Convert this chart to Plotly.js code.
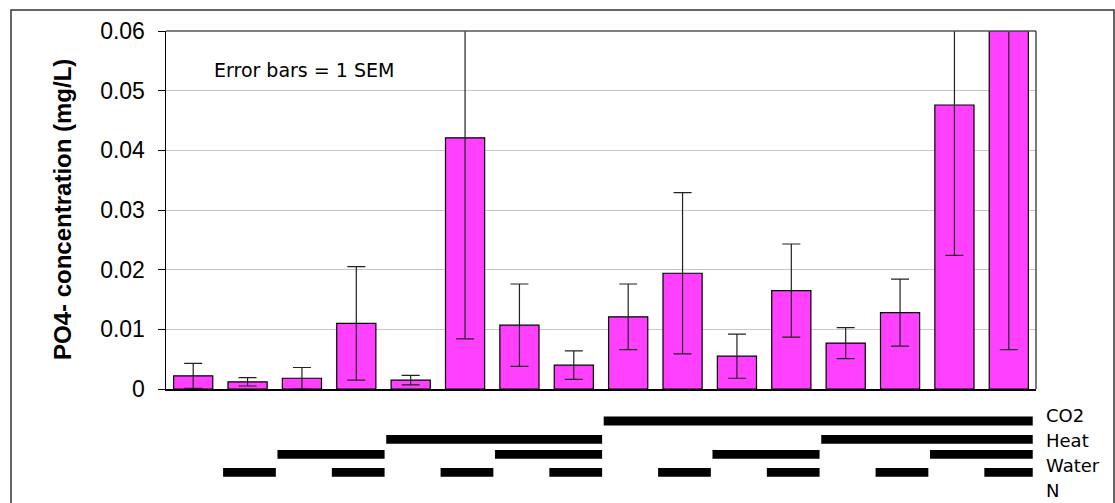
<!DOCTYPE html>
<html>
<head>
<meta charset="utf-8">
<script src="https://cdn.plot.ly/plotly-3.0.1.min.js"></script>
<style>html,body{margin:0;padding:0;background:#fff;}#chart{width:1115px;height:503px;}</style>
</head>
<body>
<div id="chart"></div>
<script>
// ---- data ----
const treatments = ['T1','T2','T3','T4','T5','T6','T7','T8','T9','T10','T11','T12','T13','T14','T15','T16'];
const po4Mean = [0.0022,0.0012,0.0018,0.0110,0.0015,0.0421,0.0107,0.0040,0.0121,0.0194,0.0055,0.0165,0.0077,0.0128,0.0476,0.0600];
const po4Sem  = [0.0021,0.0007,0.0018,0.0095,0.0008,0.0337,0.0069,0.0024,0.0055,0.0135,0.0037,0.0078,0.0026,0.0056,0.0252,0.0534];
const factorNames = ['CO2','Heat','Water','N'];
const co2   = [0,0,0,0,0,0,0,0,1,1,1,1,1,1,1,1];
const heat  = [0,0,0,0,1,1,1,1,0,0,0,0,1,1,1,1];
const water = [0,0,1,1,0,0,1,1,0,0,1,1,0,0,1,1];
const nitro = [0,1,0,1,0,1,0,1,0,1,0,1,0,1,0,1];
const yTicks = [0,0.01,0.02,0.03,0.04,0.05,0.06];
const yTickText = ['0','0.01','0.02','0.03','0.04','0.05','0.06'];

// ---- layout geometry ----
const W = 1115, H = 503;
const L = 166, R = 1036, T = 31, B = 389;
const px = x => (x - L) / (R - L);
const py = y => (B - y) / (B - T);

const factorRows = [co2, heat, water, nitro];
const rowCenters = [421, 439.3, 454.3, 472.3];
const labelCenters = [415, 440, 465, 490];
const rowHalf = 4.4;

const shapes = [];
// outer frame
shapes.push({type:'rect', xref:'paper', yref:'paper', x0:px(11), x1:px(1114), y0:py(520), y1:py(10),
  line:{color:'#333', width:1.5}, fillcolor:'rgba(0,0,0,0)', layer:'below'});
// plot box top and right
shapes.push({type:'line', xref:'paper', yref:'paper', x0:0, x1:1, y0:1, y1:1, line:{color:'#555', width:1.5}});
shapes.push({type:'line', xref:'paper', yref:'paper', x0:1, x1:1, y0:0, y1:1, line:{color:'#222', width:1.2}});

// treatment segments
factorRows.forEach((row, r) => {
  let i = 0;
  while (i < row.length) {
    if (row[i]) {
      let j = i;
      while (j + 1 < row.length && row[j + 1]) j++;
      shapes.push({type:'rect', xref:'x', yref:'paper',
        x0: i - 0.45, x1: Math.min(j + 0.52, row.length - 0.56),
        y0: py(rowCenters[r] + rowHalf), y1: py(rowCenters[r] - rowHalf),
        fillcolor:'#000', line:{width:0}});
      i = j + 1;
    } else i++;
  }
});

const annotations = factorNames.map((name, r) => ({
  xref:'paper', yref:'paper', x: px(1044), y: py(labelCenters[r]),
  xanchor:'left', yanchor:'middle', showarrow:false, text:name,
  font:{family:'DejaVu Sans', size:18, color:'#000'}
}));
annotations.push({xref:'paper', yref:'paper', x: px(212), y: py(70), xanchor:'left', yanchor:'middle',
  showarrow:false, text:'Error bars = 1 SEM', font:{family:'DejaVu Sans', size:19, color:'#000'}});
annotations.push({xref:'paper', yref:'paper', x: px(62), y: 0.5, xanchor:'center', yanchor:'middle',
  textangle:-90, showarrow:false, text:'<b>PO4- concentration (mg/L)</b>',
  font:{family:'Liberation Sans, Arial', size:24, color:'#000'}});

const trace = {
  type:'bar', x: treatments.map((t,i)=>i), y: po4Mean,
  marker:{color:'#FF40FF', line:{color:'#000', width:1.2}},
  width: 0.72,
  error_y:{type:'data', array: po4Sem, visible:true, color:'#222', thickness:1.2, width:9},
  hoverinfo:'skip'
};

const layout = {
  width: W, height: H,
  margin:{l:L, r:W-R, t:T, b:H-B, pad:0},
  paper_bgcolor:'#fff', plot_bgcolor:'#fff',
  showlegend:false,
  xaxis:{range:[-0.5,15.5], showticklabels:false, ticks:'', showgrid:false, zeroline:false,
    showline:true, linecolor:'#000', linewidth:1.5, fixedrange:true},
  yaxis:{range:[0,0.06], tickvals:yTicks, ticktext:yTickText, ticks:'outside', ticklen:7, tickcolor:'#000',
    tickwidth:1, showgrid:true, gridcolor:'#c8c8c8', gridwidth:1, zeroline:false,
    showline:true, linecolor:'#000', linewidth:1.5, ticklabelstandoff:8,
    tickfont:{family:'Liberation Sans, Arial', size:23, color:'#000'}, fixedrange:true},
  shapes: shapes,
  annotations: annotations
};

Plotly.newPlot('chart', [trace], layout, {staticPlot:true, displayModeBar:false});
</script>
</body>
</html>
